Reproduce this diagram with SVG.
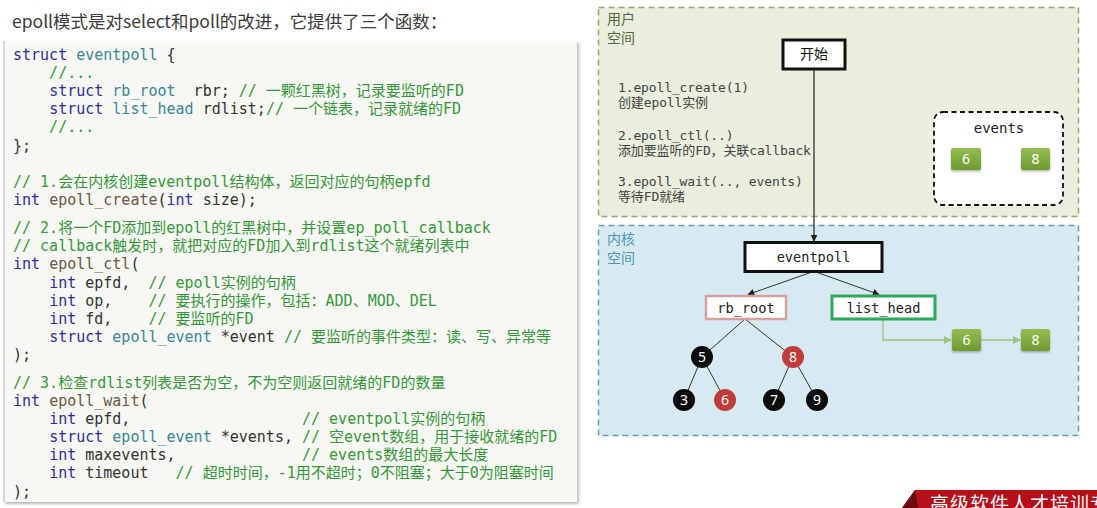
<svg xmlns="http://www.w3.org/2000/svg" width="1097" height="508" viewBox="0 0 1097 508">
<defs>
<marker id="ah" viewBox="0 0 10 10" refX="9" refY="5" markerWidth="7" markerHeight="7" orient="auto" markerUnits="userSpaceOnUse"><path d="M0,0 L10,5 L0,10 z" fill="#222"/></marker>
<marker id="ahg" viewBox="0 0 10 10" refX="9" refY="5" markerWidth="8" markerHeight="8" orient="auto" markerUnits="userSpaceOnUse"><path d="M0,0 L10,5 L0,10 z" fill="#9cc47c"/></marker>
<linearGradient id="gb" x1="0" y1="0" x2="0" y2="1"><stop offset="0" stop-color="#94bd52"/><stop offset="1" stop-color="#6f9a30"/></linearGradient>
<filter id="sh" x="-5%" y="-5%" width="110%" height="110%"><feDropShadow dx="2" dy="2" stdDeviation="1.5" flood-color="#999" flood-opacity="0.7"/></filter>
<filter id="sh2" x="-20%" y="-20%" width="140%" height="150%"><feDropShadow dx="0" dy="1.5" stdDeviation="1.2" flood-color="#666" flood-opacity="0.5"/></filter>
</defs>
<style>
.title{font-family:"Noto Sans CJK SC","Noto Sans",sans-serif;font-size:17.5px;fill:#3a3a3a}
.code text{font-family:"DejaVu Sans Mono","Noto Sans CJK SC",monospace;font-size:15px;fill:#333;white-space:pre}
.k{fill:#2d2d9e}
.t{fill:#3c8797}
.f{fill:#6b5846}
.c{fill:#35973a}
.mono{font-family:"DejaVu Sans Mono","Noto Sans CJK SC",monospace}
.step{font-family:"DejaVu Sans Mono","Noto Sans CJK SC",monospace;font-size:13px;letter-spacing:-0.13px;fill:#444}
.lbl{font-family:"Noto Sans CJK SC","Noto Sans",sans-serif;font-size:14px}
.box{fill:#fff;stroke:#111;stroke-width:3}
.bt{font-family:"DejaVu Sans Mono",monospace;font-size:13.6px;fill:#222;text-anchor:middle}
.gbox{fill:url(#gb);filter:url(#sh2)}
.gt{font-family:"Noto Sans","DejaVu Sans",sans-serif;font-size:14px;fill:#fff;text-anchor:middle}
.nt{font-family:"Noto Sans","DejaVu Sans",sans-serif;font-size:14px;fill:#fff;text-anchor:middle}
.edge{stroke:#333;stroke-width:1;fill:none}
</style>
<rect width="1097" height="508" fill="#fff"/>
<text class="title" x="12" y="28">epoll模式是对select和poll的改进，它提供了三个函数：</text>

<g id="code">
<rect x="3" y="41" width="574" height="461" fill="#f7f8f3" filter="url(#sh)"/>
<rect x="3" y="41" width="2" height="461" fill="#d9d9d9"/>
<g class="code">
<text xml:space="preserve" x="13" y="60"><tspan class="k">struct</tspan> <tspan class="t">eventpoll</tspan> {</text>
<text xml:space="preserve" x="13" y="78"><tspan class="c">    //...</tspan></text>
<text xml:space="preserve" x="13" y="96">    <tspan class="k">struct</tspan> <tspan class="t">rb_root</tspan>  rbr; <tspan class="c">// 一颗红黑树，记录要监听的FD</tspan></text>
<text xml:space="preserve" x="13" y="114">    <tspan class="k">struct</tspan> <tspan class="t">list_head</tspan> rdlist;<tspan class="c">// 一个链表，记录就绪的FD</tspan></text>
<text xml:space="preserve" x="13" y="132"><tspan class="c">    //...</tspan></text>
<text xml:space="preserve" x="13" y="151">};</text>
<text xml:space="preserve" x="13" y="187"><tspan class="c">// 1.会在内核创建eventpoll结构体，返回对应的句柄epfd</tspan></text>
<text xml:space="preserve" x="13" y="205"><tspan class="k">int</tspan> <tspan class="f">epoll_create</tspan>(<tspan class="k">int</tspan> size);</text>
<text xml:space="preserve" x="13" y="233"><tspan class="c">// 2.将一个FD添加到epoll的红黑树中，并设置ep_poll_callback</tspan></text>
<text xml:space="preserve" x="13" y="251"><tspan class="c">// callback触发时，就把对应的FD加入到rdlist这个就绪列表中</tspan></text>
<text xml:space="preserve" x="13" y="269"><tspan class="k">int</tspan> <tspan class="f">epoll_ctl</tspan>(</text>
<text xml:space="preserve" x="13" y="288">    <tspan class="k">int</tspan> epfd,  <tspan class="c">// epoll实例的句柄</tspan></text>
<text xml:space="preserve" x="13" y="306">    <tspan class="k">int</tspan> op,    <tspan class="c">// 要执行的操作，包括：ADD、MOD、DEL</tspan></text>
<text xml:space="preserve" x="13" y="324">    <tspan class="k">int</tspan> fd,    <tspan class="c">// 要监听的FD</tspan></text>
<text xml:space="preserve" x="13" y="342">    <tspan class="k">struct</tspan> <tspan class="t">epoll_event</tspan> *event <tspan class="c">// 要监听的事件类型：读、写、异常等</tspan></text>
<text xml:space="preserve" x="13" y="360">);</text>
<text xml:space="preserve" x="13" y="388"><tspan class="c">// 3.检查rdlist列表是否为空，不为空则返回就绪的FD的数量</tspan></text>
<text xml:space="preserve" x="13" y="406"><tspan class="k">int</tspan> <tspan class="f">epoll_wait</tspan>(</text>
<text xml:space="preserve" x="13" y="424">    <tspan class="k">int</tspan> epfd,                   <tspan class="c">// eventpoll实例的句柄</tspan></text>
<text xml:space="preserve" x="13" y="442">    <tspan class="k">struct</tspan> <tspan class="t">epoll_event</tspan> *events, <tspan class="c">// 空event数组，用于接收就绪的FD</tspan></text>
<text xml:space="preserve" x="13" y="460">    <tspan class="k">int</tspan> maxevents,              <tspan class="c">// events数组的最大长度</tspan></text>
<text xml:space="preserve" x="13" y="478">    <tspan class="k">int</tspan> timeout   <tspan class="c">// 超时时间，-1用不超时；0不阻塞；大于0为阻塞时间</tspan></text>
<text xml:space="preserve" x="13" y="497">);</text>
</g>
</g>

<g id="user-space">
<rect x="598.5" y="7.5" width="480" height="209" fill="#e9eedd" stroke="#9ba36e" stroke-width="1.5" stroke-dasharray="6,4"/>
<text class="lbl" x="607" y="24" fill="#56663f">用户</text>
<text class="lbl" x="607" y="43" fill="#56663f">空间</text>
<text class="step" x="618" y="92">1.epoll_create(1)</text>
<text class="step" x="618" y="107">创建epoll实例</text>
<text class="step" x="618" y="140">2.epoll_ctl(..)</text>
<text class="step" x="618" y="155">添加要监听的FD，关联callback</text>
<text class="step" x="618" y="186">3.epoll_wait(.., events)</text>
<text class="step" x="618" y="201">等待FD就绪</text>
</g>

<g id="kernel-space">
<rect x="598.5" y="225.5" width="480" height="210" fill="#d7eaf2" stroke="#6b9aae" stroke-width="1.5" stroke-dasharray="6,4"/>
<text class="lbl" x="607" y="244" fill="#4d97b5">内核</text>
<text class="lbl" x="607" y="263" fill="#4d97b5">空间</text>
</g>

<g id="events">
<rect x="934" y="112" width="129" height="93" rx="9" fill="#fff" stroke="#111" stroke-width="1.8" stroke-dasharray="5,3.5"/>
<text class="mono" x="999" y="133" font-size="14" fill="#222" text-anchor="middle">events</text>
</g>
<g id="ev6"><rect class="gbox" x="951" y="148" width="30" height="22" rx="2"/><text class="gt" x="966" y="164">6</text></g>
<g id="ev8"><rect class="gbox" x="1021" y="148" width="29" height="22" rx="2"/><text class="gt" x="1035.5" y="164">8</text></g>

<g id="connectors">
<line x1="814" y1="69" x2="814" y2="241" stroke="#555" stroke-width="1.6" marker-end="url(#ah)"/>
<line class="edge" x1="812" y1="272" x2="748" y2="294.5" marker-end="url(#ah)"/>
<line class="edge" x1="816" y1="272" x2="879" y2="294.5" marker-end="url(#ah)"/>
<line class="edge" x1="745" y1="319" x2="702" y2="357"/>
<line class="edge" x1="745" y1="319" x2="793" y2="357"/>
<line class="edge" x1="702" y1="357" x2="684" y2="400"/>
<line class="edge" x1="702" y1="357" x2="725" y2="400"/>
<line class="edge" x1="793" y1="357" x2="774" y2="400"/>
<line class="edge" x1="793" y1="357" x2="817" y2="400"/>
<polyline points="883,320 883,340 951,340" fill="none" stroke="#9cc47c" stroke-width="1.3" marker-end="url(#ahg)"/>
<line x1="981" y1="340" x2="1020" y2="340" stroke="#9cc47c" stroke-width="1.3" marker-end="url(#ahg)"/>
</g>

<g id="start"><rect class="box" x="783" y="40" width="62" height="29"/><text class="lbl" x="814" y="59" fill="#111" text-anchor="middle">开始</text></g>
<g id="eventpoll"><rect class="box" x="745" y="242.5" width="137" height="29"/><text class="bt" x="813.5" y="262">eventpoll</text></g>
<g id="rb_root"><rect x="706" y="296" width="80" height="23" fill="#fff" stroke="#d9a0a0" stroke-width="2.5"/><text class="bt" x="746" y="312.5">rb_root</text></g>
<g id="list_head"><rect x="832" y="296" width="103" height="23" fill="#fff" stroke="#2ea85a" stroke-width="3"/><text class="bt" x="883.5" y="312.5">list_head</text></g>

<g id="n5"><circle cx="702" cy="357" r="11" fill="#0c0c0c"/><text class="nt" x="702" y="362">5</text></g>
<g id="n8"><circle cx="793" cy="357" r="11" fill="#c23b3b"/><text class="nt" x="793" y="362">8</text></g>
<g id="n3"><circle cx="684" cy="400" r="11" fill="#0c0c0c"/><text class="nt" x="684" y="405">3</text></g>
<g id="n6"><circle cx="725" cy="400" r="11" fill="#c23b3b"/><text class="nt" x="725" y="405">6</text></g>
<g id="n7"><circle cx="774" cy="400" r="11" fill="#0c0c0c"/><text class="nt" x="774" y="405">7</text></g>
<g id="n9"><circle cx="817" cy="400" r="11" fill="#0c0c0c"/><text class="nt" x="817" y="405">9</text></g>

<g id="l6"><rect class="gbox" x="952" y="329" width="29" height="22" rx="2"/><text class="gt" x="966.5" y="345">6</text></g>
<g id="l8"><rect class="gbox" x="1021" y="329" width="29" height="22" rx="2"/><text class="gt" x="1035.5" y="345">8</text></g>

<g id="banner">
<polygon points="915,490 1097,490 1097,508 902,508" fill="#b5101a"/>
<polygon points="902,508 915,490 918,508" fill="#6e0a0e"/>
<text x="930" y="511" font-family="Noto Sans CJK SC, sans-serif" font-size="19" letter-spacing="1" fill="#fff">高级软件人才培训专</text>
</g>
</svg>
